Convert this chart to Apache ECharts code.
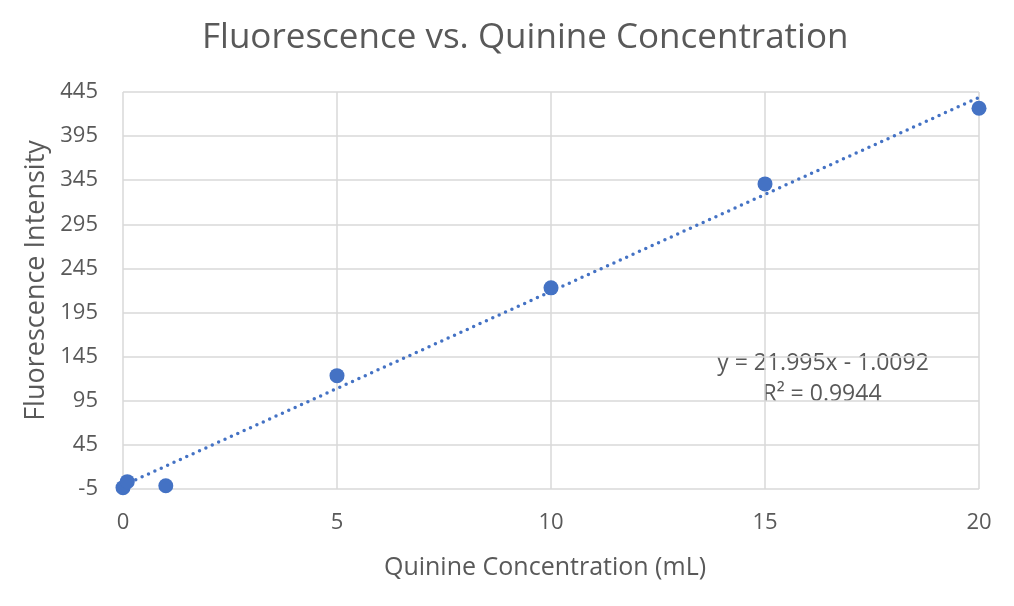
<!DOCTYPE html>
<html>
<head>
<meta charset="utf-8">
<script src="https://cdn.jsdelivr.net/npm/echarts@6/dist/echarts.min.js"></script>
<style>html,body{margin:0;padding:0;background:#fff;}#c{width:1014px;height:606px;}</style>
</head>
<body>
<div id="c"></div>
<script>
const concentration = [0, 0.1, 1, 5, 10, 15, 20];
const intensity = [-3.5, 3.3, -1.3, 123.5, 223, 340.8, 426.6];
const trendSlope = 21.995;
const trendIntercept = -1.0092;
const trendRange = [0, 20];
const equationText = ['y = 21.995x - 1.0092', 'R² = 0.9944'];

const FONT = 'Open Sans';
const chart = echarts.init(document.getElementById('c'));
const pts = concentration.map((x, i) => [x, intensity[i]]);
const trend = trendRange.map(x => [x, trendSlope * x + trendIntercept]);

chart.setOption({
  animation: false,
  backgroundColor: '#fff',
  textStyle: {fontFamily: FONT},
  title: {
    text: 'Fluorescence vs. Quinine Concentration',
    left: 197, top: 16,
    textStyle: {fontFamily: FONT, fontSize: 35, fontWeight: 'normal', color: '#595959'}
  },
  grid: {left: 123, right: 35, top: 92, bottom: 117},
  xAxis: {
    type: 'value', min: 0, max: 20, interval: 5,
    name: 'Quinine Concentration (mL)', nameLocation: 'middle', nameGap: 66,
    nameTextStyle: {fontFamily: FONT, fontSize: 25, color: '#595959', padding: [0, 12, 0, 0]},
    axisLine: {show: false},
    axisTick: {show: false},
    axisLabel: {fontFamily: FONT, fontSize: 22, color: '#595959', margin: 23},
    splitLine: {show: true, lineStyle: {color: '#d9d9d9', width: 1.5}}
  },
  yAxis: {
    type: 'value', min: -5, max: 445, interval: 50,
    name: 'Fluorescence Intensity', nameLocation: 'middle', nameGap: 73,
    nameTextStyle: {fontFamily: FONT, fontSize: 27, color: '#595959', padding: [0, 0, 0, 20]},
    axisLine: {show: false},
    axisTick: {show: false},
    axisLabel: {fontFamily: FONT, fontSize: 22, color: '#595959', margin: 25},
    splitLine: {show: true, lineStyle: {color: '#d9d9d9', width: 1.5}}
  },
  series: [
    {
      type: 'line', data: trend, showSymbol: false, symbol: 'none',
      lineStyle: {color: '#4472C4', width: 3.5, type: [0, 7], cap: 'round'},
      z: 2
    },
    {
      type: 'scatter', data: pts, symbolSize: 15,
      itemStyle: {color: '#4472C4', opacity: 1}, z: 3
    }
  ],
  graphic: [
    {type: 'text', x: 823, y: 363, style: {text: equationText[0], fontFamily: FONT, fontSize: 23, fill: '#595959', align: 'center', verticalAlign: 'middle'}},
    {type: 'text', x: 822, y: 394, style: {text: equationText[1], fontFamily: FONT, fontSize: 23, fill: '#595959', align: 'center', verticalAlign: 'middle'}}
  ]
});
</script>
</body>
</html>
